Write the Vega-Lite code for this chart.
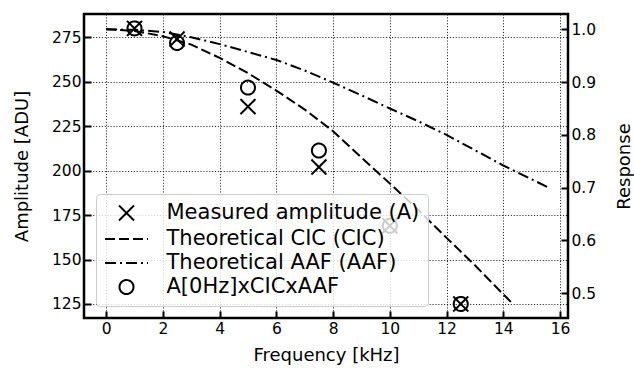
{
  "$schema": "https://vega.github.io/schema/vega-lite/v6.json",
  "width": 484,
  "height": 304,
  "autosize": {"type": "none"},
  "padding": {"left": 84, "top": 14, "right": 66, "bottom": 56},
  "background": "white",
  "config": {
    "font": "DejaVu Sans",
    "view": {"stroke": "black", "strokeWidth": 2.5},
    "axis": {
      "domain": false,
      "tickSize": -7,
      "tickWidth": 2,
      "tickColor": "black",
      "labelFont": "DejaVu Sans",
      "labelFontSize": 15.5,
      "labelColor": "black",
      "labelPadding": 10,
      "titleFont": "DejaVu Sans",
      "titleFontSize": 18,
      "titleFontWeight": "normal",
      "titleColor": "black",
      "gridColor": "black",
      "gridOpacity": 0.85,
      "gridDash": [1.1, 1.8],
      "gridWidth": 1
    },
    "legend": {
      "orient": "none",
      "legendX": 12,
      "legendY": 180,
      "symbolSize": 400,
      "symbolStrokeWidth": 2,
      "symbolStrokeColor": "black",
      "symbolFillColor": "transparent",
      "symbolOffset": 11.5,
      "labelOffset": 29,
      "labelFont": "DejaVu Sans",
      "labelFontSize": 21,
      "labelColor": "black",
      "labelLimit": 400,
      "padding": 8,
      "rowPadding": 3,
      "fillColor": "rgba(255,255,255,0.8)",
      "strokeColor": "#cccccc",
      "cornerRadius": 4
    }
  },
  "layer": [
    {
      "data": {
        "values": [
          {"f": 0, "resp": 1.0, "series": "Theoretical CIC (CIC)"},
          {"f": 1, "resp": 0.997, "series": "Theoretical CIC (CIC)"},
          {"f": 2, "resp": 0.987, "series": "Theoretical CIC (CIC)"},
          {"f": 3, "resp": 0.971, "series": "Theoretical CIC (CIC)"},
          {"f": 4, "resp": 0.946, "series": "Theoretical CIC (CIC)"},
          {"f": 5, "resp": 0.917, "series": "Theoretical CIC (CIC)"},
          {"f": 6, "resp": 0.884, "series": "Theoretical CIC (CIC)"},
          {"f": 7, "resp": 0.848, "series": "Theoretical CIC (CIC)"},
          {"f": 8, "resp": 0.807, "series": "Theoretical CIC (CIC)"},
          {"f": 9, "resp": 0.757, "series": "Theoretical CIC (CIC)"},
          {"f": 10, "resp": 0.708, "series": "Theoretical CIC (CIC)"},
          {"f": 11, "resp": 0.658, "series": "Theoretical CIC (CIC)"},
          {"f": 12, "resp": 0.605, "series": "Theoretical CIC (CIC)"},
          {"f": 13, "resp": 0.553, "series": "Theoretical CIC (CIC)"},
          {"f": 14, "resp": 0.498, "series": "Theoretical CIC (CIC)"},
          {"f": 14.3, "resp": 0.482, "series": "Theoretical CIC (CIC)"},
          {"f": 0, "resp": 1.0, "series": "Theoretical AAF (AAF)"},
          {"f": 1, "resp": 0.999, "series": "Theoretical AAF (AAF)"},
          {"f": 2, "resp": 0.995, "series": "Theoretical AAF (AAF)"},
          {"f": 3, "resp": 0.985, "series": "Theoretical AAF (AAF)"},
          {"f": 4, "resp": 0.972, "series": "Theoretical AAF (AAF)"},
          {"f": 5, "resp": 0.957, "series": "Theoretical AAF (AAF)"},
          {"f": 6, "resp": 0.942, "series": "Theoretical AAF (AAF)"},
          {"f": 7, "resp": 0.922, "series": "Theoretical AAF (AAF)"},
          {"f": 8, "resp": 0.899, "series": "Theoretical AAF (AAF)"},
          {"f": 9, "resp": 0.875, "series": "Theoretical AAF (AAF)"},
          {"f": 10, "resp": 0.85, "series": "Theoretical AAF (AAF)"},
          {"f": 11, "resp": 0.826, "series": "Theoretical AAF (AAF)"},
          {"f": 12, "resp": 0.8, "series": "Theoretical AAF (AAF)"},
          {"f": 13, "resp": 0.771, "series": "Theoretical AAF (AAF)"},
          {"f": 14, "resp": 0.742, "series": "Theoretical AAF (AAF)"},
          {"f": 15, "resp": 0.716, "series": "Theoretical AAF (AAF)"},
          {"f": 15.6, "resp": 0.7, "series": "Theoretical AAF (AAF)"}
        ]
      },
      "mark": {"type": "line", "color": "black", "strokeWidth": 2},
      "encoding": {
        "x": {
          "field": "f", "type": "quantitative",
          "scale": {"domain": [-0.78, 16.28], "nice": false, "zero": false},
          "axis": {"values": [0, 2, 4, 6, 8, 10, 12, 14, 16], "title": "Frequency [kHz]", "grid": true, "titlePadding": 10}
        },
        "y": {
          "field": "resp", "type": "quantitative",
          "scale": {"domain": [0.4532, 1.029], "nice": false, "zero": false},
          "axis": {"orient": "right", "values": [0.5, 0.6, 0.7, 0.8, 0.9, 1.0], "format": ".1f", "title": "Response", "titleAngle": 270, "grid": false, "titlePadding": 38}
        },
        "strokeDash": {
          "field": "series", "type": "nominal", "title": null,
          "scale": {
            "domain": ["Measured amplitude (A)", "Theoretical CIC (CIC)", "Theoretical AAF (AAF)", "A[0Hz]xCICxAAF"],
            "range": [[1, 0], [10, 4], [11, 4, 2, 4], [1, 0]]
          }
        }
      }
    },
    {
      "data": {
        "values": [
          {"f": 1, "amp": 280, "series": "Measured amplitude (A)"},
          {"f": 2.5, "amp": 274, "series": "Measured amplitude (A)"},
          {"f": 5, "amp": 236, "series": "Measured amplitude (A)"},
          {"f": 7.5, "amp": 202, "series": "Measured amplitude (A)"},
          {"f": 10, "amp": 169, "series": "Measured amplitude (A)"},
          {"f": 12.5, "amp": 125, "series": "Measured amplitude (A)"},
          {"f": 1, "amp": 280, "series": "A[0Hz]xCICxAAF"},
          {"f": 2.5, "amp": 271.8, "series": "A[0Hz]xCICxAAF"},
          {"f": 5, "amp": 246.7, "series": "A[0Hz]xCICxAAF"},
          {"f": 7.5, "amp": 211.3, "series": "A[0Hz]xCICxAAF"},
          {"f": 10, "amp": 169, "series": "A[0Hz]xCICxAAF"},
          {"f": 12.5, "amp": 125, "series": "A[0Hz]xCICxAAF"}
        ]
      },
      "mark": {"type": "point", "filled": false, "color": "black", "strokeWidth": 2, "size": 400, "opacity": 1},
      "encoding": {
        "x": {"field": "f", "type": "quantitative"},
        "y": {
          "field": "amp", "type": "quantitative",
          "scale": {"domain": [117.1, 288.1], "nice": false, "zero": false},
          "axis": {"orient": "left", "values": [125, 150, 175, 200, 225, 250, 275], "title": "Amplitude [ADU]", "grid": true, "titlePadding": 20}
        },
        "shape": {
          "field": "series", "type": "nominal", "title": null,
          "scale": {
            "domain": ["Measured amplitude (A)", "Theoretical CIC (CIC)", "Theoretical AAF (AAF)", "A[0Hz]xCICxAAF"],
            "range": [
              "M-0.75,-0.75L0.75,0.75M0.75,-0.75L-0.75,0.75",
              "M-2.15,0L2.15,0",
              "M-2.15,0L2.15,0",
              "M0.7,0A0.7,0.7 0 1,1 -0.7,0A0.7,0.7 0 1,1 0.7,0Z"
            ]
          }
        },
        "strokeDash": {"field": "series", "type": "nominal", "title": null}
      }
    }
  ],
  "resolve": {"scale": {"y": "independent"}, "axis": {"y": "independent"}}
}
